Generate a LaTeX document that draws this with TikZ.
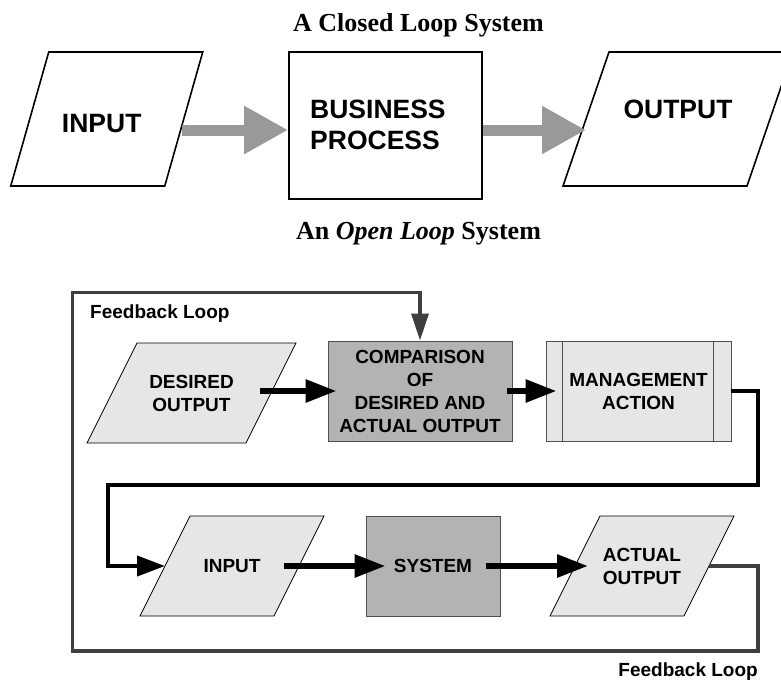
\documentclass[tikz,border=0pt]{standalone}
\usepackage{fontspec}
\setmainfont{Liberation Serif}
\setsansfont{Liberation Sans}
\usetikzlibrary{arrows.meta,calc}

\definecolor{lightfill}{HTML}{E6E6E6}
\definecolor{darkfill}{HTML}{B3B3B3}
\definecolor{loopgray}{HTML}{3F3F3F}
\definecolor{flowgray}{HTML}{999999}
\definecolor{edgegray}{HTML}{505050}

% slanted data box: name, centre x, centre y, half width, half height, half skew, style
\newcommand\slantbox[7]{%
  \coordinate (#1) at (#2,#3);
  \coordinate (#1-e) at (#2+#4,#3);
  \coordinate (#1-w) at (#2-#4,#3);
  \draw[#7] (#2-#4+#6,#3-#5) -- (#2+#4+#6,#3-#5) -- (#2+#4-#6,#3+#5) -- (#2-#4-#6,#3+#5) -- cycle;
}

\begin{document}
\begin{tikzpicture}[x=1pt,y=-1pt,
  title/.style={font=\fontsize{26}{31}\selectfont\bfseries, inner sep=0pt, anchor=base},
  biglabel/.style={font=\fontsize{26.5}{31}\selectfont\sffamily\bfseries, inner sep=0pt},
  label/.style={font=\fontsize{19}{23}\selectfont\sffamily\bfseries, inner sep=0pt, align=center},
  outline/.style={draw=black, line width=1.6pt, fill=white},
  thinpara/.style={draw=black, line width=0.8pt, fill=lightfill},
  darkbox/.style={label, draw=edgegray, line width=1pt, fill=darkfill},
  lightbox/.style={label, draw=edgegray, line width=1pt, fill=lightfill},
  bigflow/.style={draw=flowgray, line width=11pt, -{Triangle[length=44pt,width=45pt]}},
  flow/.style={draw=black, line width=6pt, -{Triangle[length=31pt,width=22pt]}},
  linkline/.style={draw=black, line width=4pt, -{Triangle[length=28pt,width=20pt]}},
  loopline/.style={draw=loopgray, line width=3.5pt, -{Triangle[length=27pt,width=17pt]}}
]
\useasboundingbox (0,0) rectangle (781,681);

% ---------- upper flow ----------
\node[title] (ttop) at (418.5,31) {A Closed Loop System};

\slantbox{in0}{106.75}{119}{77}{67}{19}{outline}
\node[biglabel, anchor=base] (in0t) at (101.7,132) {INPUT};

\node[outline, minimum width=193pt, minimum height=147pt, inner sep=0pt] (bp) at (385.5,125.5) {};
\node[biglabel, anchor=west, align=left] (bpt) at (310,124.5) {BUSINESS\\PROCESS};

\slantbox{out0}{678}{119}{92}{67}{23}{outline}
\node[biglabel, anchor=base] (out0t) at (678,118) {OUTPUT};

\coordinate (a1s) at (182,130);
\coordinate (a2e) at (586,130);
\draw[bigflow] (a1s) -- (a1s -| bp.west);
\draw[bigflow] (a1s -| bp.east) -- (a2e);

\node[title] (tmid) at (418.5,239) {An \textit{Open Loop} System};

% ---------- lower flow ----------
\slantbox{dsd}{191.5}{393}{79.5}{50}{25}{thinpara}
\node[label] (dsdt) at (dsd) {DESIRED\\OUTPUT};

\node[darkbox, minimum width=184pt, minimum height=100pt] (cmp) at (420,391)
  {COMPARISON\\OF\\DESIRED AND\\ACTUAL OUTPUT};

\node[lightbox, minimum width=185pt, minimum height=100pt] (mg) at (638.5,391)
  {MANAGEMENT\\ACTION};
\draw[edgegray, line width=0.8pt] ([xshift=17pt]mg.north west) -- ([xshift=17pt]mg.south west);
\draw[edgegray, line width=0.8pt] ([xshift=-18pt]mg.north east) -- ([xshift=-18pt]mg.south east);

\slantbox{inp}{232}{566}{67}{50}{25}{thinpara}
\node[label] (inpt) at (inp) {INPUT};

\node[darkbox, minimum width=134pt, minimum height=100pt] (sys) at (433,566) {SYSTEM};

\slantbox{act}{642}{566}{67}{50}{25}{thinpara}
\node[label] (actt) at (act) {ACTUAL\\OUTPUT};

% arrows between the steps
\coordinate (dsdout) at ([xshift=68.5pt]dsd);
\draw[flow] (dsdout |- cmp.west) -- ([xshift=9pt]cmp.west);
\draw[flow] ([xshift=-6pt]cmp.east) -- ([xshift=11pt]mg.west);
\draw[flow] ([xshift=52pt]inp) -- ([xshift=20pt]sys.west);
\draw[flow] ([xshift=-15pt]sys.east) -- ([xshift=13pt]act-w);

% management action back to the input
\coordinate (lk1) at (758,391);
\coordinate (lk2) at (758,485);
\coordinate (lk3) at (108,485);
\draw[linkline] ([xshift=-1pt]mg.east) -- (lk1) -- (lk2) -- (lk3) -- (lk3 |- inp-w) -- (inp-w);

% feedback loop from actual output to the comparison
\coordinate (fb1) at (758,651);
\coordinate (fb2) at (72.7,651);
\coordinate (fb3) at (72.7,292.7);
\draw[loopline] (act-e) -- (act-e -| fb1) -- (fb1) -- (fb2) -- (fb3) -- (fb3 -| cmp.north) -- (cmp.north);

\node[label, anchor=base west] (fbtop) at (90,318) {Feedback Loop};
\node[label, anchor=base east] (fbbot) at (758,676) {Feedback Loop};
\end{tikzpicture}
\end{document}
